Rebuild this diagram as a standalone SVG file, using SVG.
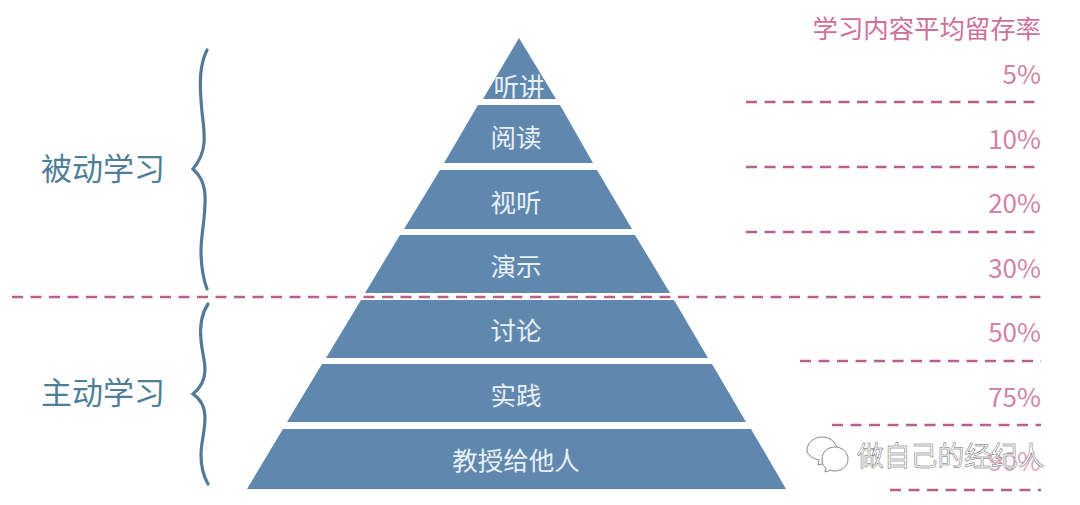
<svg xmlns="http://www.w3.org/2000/svg" width="1080" height="505" viewBox="0 0 1080 505">
<style>
text{font-family:"Noto Sans CJK SC","Liberation Sans",sans-serif}
.lv{fill:#6088ae}
.t{fill:#e8eff6;font-size:25.5px;text-anchor:middle}
.p{fill:#d283a6;font-size:26px;text-anchor:end}
.h{fill:#cf6f9c;font-size:25.4px;text-anchor:end}
.g{fill:#4f7f98;font-size:31px}
.d{fill:none;stroke:#b8608a;stroke-width:2.5;stroke-dasharray:11 7.5}
.b{fill:none;stroke:#537b98;stroke-width:3.2;stroke-linecap:round;stroke-linejoin:miter}
</style>
<rect width="1080" height="505" fill="#fff"/>
<g id="level-1"><polygon class="lv" points="519,38 556,99 483,99"/><text class="t" x="519" y="96">听讲</text></g>
<g id="level-2"><polygon class="lv" points="478,105 560,105 593,163 444,163"/><text class="t" x="516" y="147">阅读</text></g>
<g id="level-3"><polygon class="lv" points="440,170 597,170 632,229 404,229"/><text class="t" x="516" y="212">视听</text></g>
<g id="level-4"><polygon class="lv" points="400,235 635,235 670,293 365,293"/><text class="t" x="516" y="276">演示</text></g>
<g id="level-5"><polygon class="lv" points="361,300 674,300 708,358 326,358"/><text class="t" x="516" y="340">讨论</text></g>
<g id="level-6"><polygon class="lv" points="322,364 712,364 746,422 287,422"/><text class="t" x="516" y="405">实践</text></g>
<g id="level-7"><polygon class="lv" points="283,429 751,429 786,489 247,489"/><text class="t" x="516" y="470">教授给他人</text></g>
<g id="connectors">
<path class="d" d="M746 102H1041M746 167H1041M746 232H1041M12 297H1041M800 361H1041M832 425H1041M890 490H1041"/>
<path class="b" d="M207 50C199 66 200 85 201 100C202 118 205 128 204 143C203 155 198 163 193 169C198 174 204 180 205 195C206 215 201 235 201 250C201 265 203 278 207 289"/>
<path class="b" d="M208 304C200 316 200 330 201 340C202 352 205 360 205 370C205 382 199 389 193 394C199 398 205 405 205 418C205 432 201 442 201 455C201 467 204 477 208 484"/>
</g>
<g id="group-passive"><text class="g" x="41" y="180">被动学习</text></g>
<g id="group-active"><text class="g" x="41" y="404">主动学习</text></g>
<g id="rates">
<text class="h" x="1041" y="38">学习内容平均留存率</text>
<text class="p" x="1041" y="84">5%</text>
<text class="p" x="1041" y="149">10%</text>
<text class="p" x="1041" y="213">20%</text>
<text class="p" x="1041" y="278">30%</text>
<text class="p" x="1041" y="342">50%</text>
<text class="p" x="1041" y="407">75%</text>
<text class="p" x="1041" y="471" opacity=".7">90%</text>
</g>
<g id="watermark" fill="#fff" stroke="#888" stroke-width="1">
<path d="M807 450c0-7 7-13 15-13s14 5 15 12l-11 14-8 2 1-5c-7-2-12-5-12-10z"/>
<path d="M822 459c0-7 6-12 13-12s13 5 13 12-6 12-13 12c-1 0-3 0-4-1l-6 2 1-4c-3-2-4-5-4-9z"/>
<text x="857" y="466" font-size="26.8" fill="#fff" stroke="#666" stroke-width=".5">做自己的经纪人</text>
</g>
</svg>
